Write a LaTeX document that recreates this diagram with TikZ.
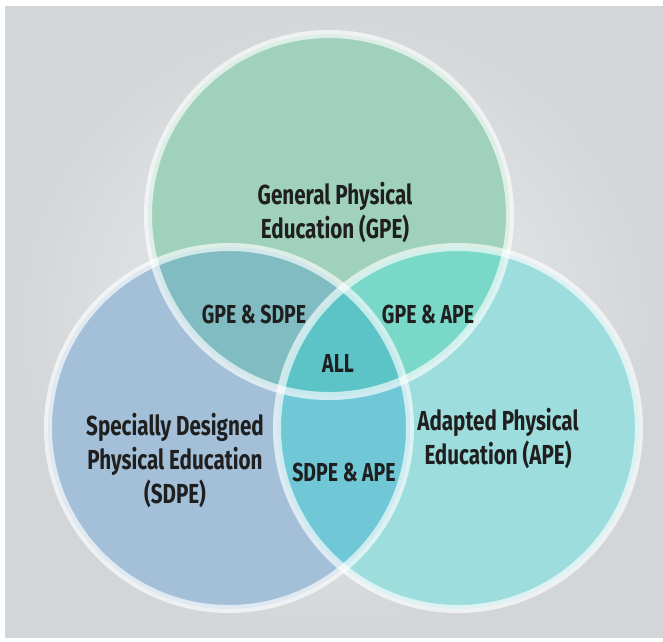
\documentclass[tikz,border=0pt]{standalone}
\usepackage{fontspec}
\setmainfont{Fira Sans}[FakeStretch=0.75, UprightFont=* Medium, BoldFont=* Bold]
\definecolor{bgin}{RGB}{237,239,240}
\definecolor{bgout}{RGB}{211,214,216}
\definecolor{gpefill}{RGB}{159,209,188}
\definecolor{sdpefill}{RGB}{164,192,216}
\definecolor{apefill}{RGB}{158,221,221}
\definecolor{gsfill}{RGB}{128,188,194}
\definecolor{gafill}{RGB}{122,216,200}
\definecolor{safill}{RGB}{112,200,214}
\definecolor{allfill}{RGB}{92,195,198}

\begin{document}
\begin{tikzpicture}[x=1pt, y=-1pt,
    ring/.style={draw=white, draw opacity=0.65, line width=8pt},
    biglabel/.style={align=center, text=black!88, font=\bfseries\fontsize{27.5}{34}\selectfont},
    duallabel/.style={text=black!88, font=\bfseries\fontsize{26}{30}\selectfont},]
    \useasboundingbox (0,0) rectangle (663,641);
    \fill[white] (0,0) rectangle (663,641);
    \shade[inner color=bgin, outer color=bgout] (5,6) rectangle (663,637);
    \coordinate (gpe) at (329,215);
    \coordinate (sdpe) at (229,428);
    \coordinate (ape) at (458,428);
    % single circles
    \fill[sdpefill] (sdpe) circle[radius=181pt];
    \fill[apefill] (ape) circle[radius=181pt];
    \fill[gpefill] (gpe) circle[radius=181pt];
    % overlaps
    \begin{scope}
        \clip (gpe) circle[radius=181pt];
        \fill[gsfill] (sdpe) circle[radius=181pt];
        \fill[gafill] (ape) circle[radius=181pt];
    \end{scope}
    \begin{scope}
        \clip (sdpe) circle[radius=181pt];
        \fill[safill] (ape) circle[radius=181pt];
    \end{scope}
    \begin{scope}
        \clip (gpe) circle[radius=181pt];
        \clip (sdpe) circle[radius=181pt];
        \fill[allfill] (ape) circle[radius=181pt];
    \end{scope}
    \draw[ring] (gpe) circle[radius=181pt];
    \draw[ring] (sdpe) circle[radius=181pt];
    \draw[ring] (ape) circle[radius=181pt];
    % labels
    \node[biglabel] (gpelabel) at (335,213) {General Physical\\Education (GPE)};
    \node[biglabel] (sdpelabel) at (175,461) {Specially Designed\\Physical Education\\(SDPE)};
    \node[biglabel] (apelabel) at (498,439) {Adapted Physical\\Education (APE)};
    \node[duallabel] (gslabel) at (254,314) {GPE \& SDPE};
    \node[duallabel] (galabel) at (428,314) {GPE \& APE};
    \node[duallabel] (salabel) at (344,472) {SDPE \& APE};
    \node[duallabel] (alllabel) at (338,363) {ALL};
\end{tikzpicture}
\end{document}
